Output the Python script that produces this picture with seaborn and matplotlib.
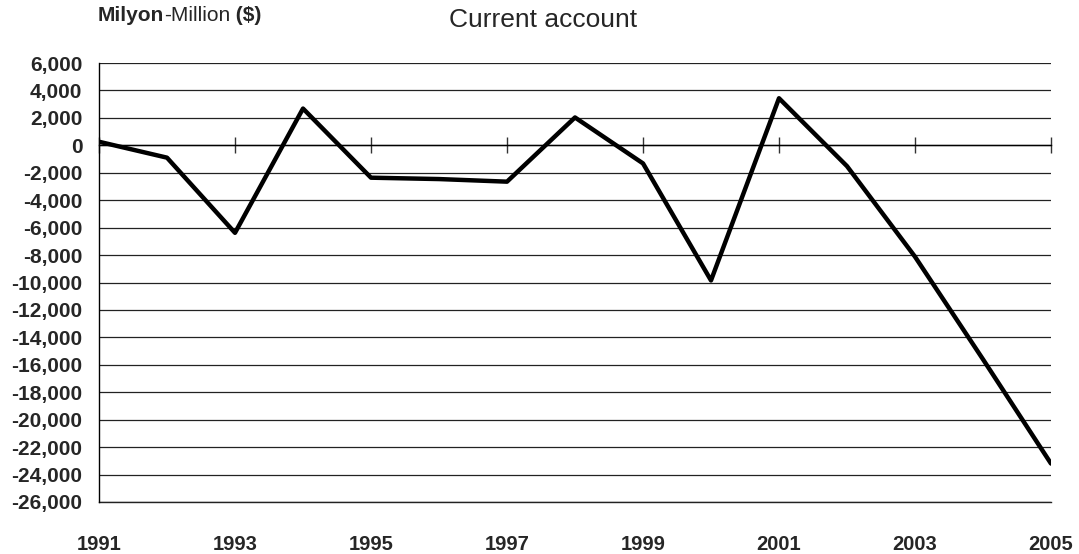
import matplotlib
matplotlib.use("Agg")
import matplotlib.pyplot as plt
import seaborn as sns
import pandas as pd
from matplotlib.ticker import FuncFormatter, MultipleLocator

years = [1991, 1992, 1993, 1994, 1995, 1996, 1997, 1998, 1999, 2000, 2001, 2002, 2003, 2004, 2005]
current_account = [260, -900, -6380, 2680, -2360, -2460, -2650, 2030, -1320, -9850, 3430, -1520, -8120, -15600, -23200]
label_years = [1991, 1993, 1995, 1997, 1999, 2001, 2003, 2005]
title = "Current account"

sns.set_theme(style="white")
plt.rcParams['font.family'] = ['Liberation Sans', 'DejaVu Sans']

df = pd.DataFrame({"year": years, "value": current_account})

fig = plt.figure(figsize=(10.79, 5.54), dpi=100)
ax = fig.add_axes([99/1079, 1 - 502/554, (1051 - 99)/1079, (502 - 63)/554])

sns.lineplot(data=df, x="year", y="value", ax=ax, color="black", linewidth=3.2, zorder=5)

ax.set_xlim(1991, 2005)
ax.set_ylim(-26000, 6000)
ax.yaxis.set_major_locator(MultipleLocator(2000))
ax.yaxis.set_major_formatter(FuncFormatter(lambda v, p: f"{int(v):,}"))
ax.grid(axis="y", color="#222222", linewidth=0.9)
ax.grid(axis="x", visible=False)
ax.set_xlabel("")
ax.set_ylabel("")

for s in ["top", "right"]:
    ax.spines[s].set_visible(False)
ax.spines["left"].set_color("black")
ax.spines["left"].set_linewidth(1.0)
ax.spines["bottom"].set_position(("data", 0))
ax.spines["bottom"].set_color("black")
ax.spines["bottom"].set_linewidth(1.0)

ax.set_xticks(label_years)
ax.tick_params(axis="x", direction="inout", length=12, width=1, color="#333333",
               bottom=True, labelbottom=False)
ax.tick_params(axis="y", length=0, pad=12, labelsize=15)
for lab in ax.get_yticklabels():
    lab.set_fontweight("bold")

sec = ax.secondary_xaxis(0.0)
sec.set_xticks(label_years)
sec.set_xticklabels([str(y) for y in label_years])
sec.tick_params(axis="x", length=0, pad=24, labelsize=14.5)
sec.spines["bottom"].set_visible(True)
sec.spines["bottom"].set_color("#222222")
sec.spines["bottom"].set_linewidth(1.0)
for lab in sec.get_xticklabels():
    lab.set_fontweight("bold")

fig.text(543/1079, 1 - 20/554, title, ha="center", va="center", fontsize=19)

# Mixed-weight unit label, placed piece by piece
renderer = fig.canvas.get_renderer()
x0 = 98 / 1079
y0 = 1 - 21 / 554
pieces = [("Milyon", "bold"), ("-Million", "normal"), (" ($)", "bold")]
for txt, w in pieces:
    t = fig.text(x0, y0, txt, fontsize=15, fontweight=w, ha="left", va="baseline")
    bb = t.get_window_extent(renderer=renderer)
    x0 = fig.transFigure.inverted().transform((bb.x1, bb.y0))[0]

fig.savefig("out.png", dpi=100, facecolor="white")
